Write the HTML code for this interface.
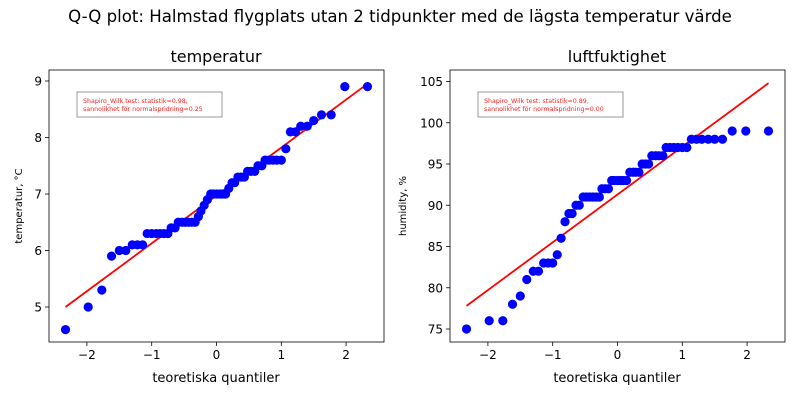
<!DOCTYPE html>
<html><head><meta charset="utf-8"><style>
body{margin:0;background:#fff;font-family:"Liberation Sans","DejaVu Sans",sans-serif}
svg text{font-family:"DejaVu Sans","Liberation Sans",sans-serif}
</style></head><body>
<svg id="s" width="800" height="400" xmlns="http://www.w3.org/2000/svg">
<text x="400" y="22" font-size="16.6" text-anchor="middle">Q-Q plot: Halmstad flygplats utan 2 tidpunkter med de lägsta temperatur värde</text>
</svg>
<script>
const qx=[-2.33,-1.98,-1.77,-1.62,-1.5,-1.4,-1.3,-1.22,-1.14,-1.07,-1.0,-0.93,-0.87,-0.81,-0.75,-0.7,-0.64,-0.59,-0.53,-0.48,-0.43,-0.38,-0.33,-0.28,-0.24,-0.19,-0.14,-0.09,-0.05,0,0.05,0.09,0.14,0.19,0.24,0.28,0.33,0.38,0.43,0.48,0.53,0.59,0.64,0.7,0.75,0.81,0.87,0.93,1.0,1.07,1.14,1.22,1.3,1.4,1.5,1.62,1.77,1.98,2.33];
const tempVals=[4.6,5.0,5.3,5.9,6.0,6.0,6.1,6.1,6.1,6.3,6.3,6.3,6.3,6.3,6.3,6.4,6.4,6.5,6.5,6.5,6.5,6.5,6.5,6.6,6.7,6.8,6.9,7.0,7.0,7.0,7.0,7.0,7.0,7.1,7.2,7.2,7.3,7.3,7.3,7.4,7.4,7.4,7.5,7.5,7.6,7.6,7.6,7.6,7.6,7.8,8.1,8.1,8.2,8.2,8.3,8.4,8.4,8.9,8.9];
const humVals=[75,76,76,78,79,81,82,82,83,83,83,84,86,88,89,89,90,90,91,91,91,91,91,91,92,92,92,93,93,93,93,93,93,94,94,94,94,95,95,95,96,96,96,96,97,97,97,97,97,97,98,98,98,98,98,98,99,99,99];
const tempLine=[[-2.33,5.0],[2.33,8.95]];
const humLine=[[-2.33,77.8],[2.33,104.8]];
const xTicks=[-2,-1,0,1,2];
const tempTicks=[5,6,7,8,9];
const humTicks=[75,80,85,90,95,100,105];
const NS="http://www.w3.org/2000/svg",svg=document.getElementById('s');
function mk(t,a,p){const e=document.createElementNS(NS,t);for(const k in a)e.setAttribute(k,a[k]);(p||svg).appendChild(e);return e;}
function panel(o){
 const g=mk('g',{});
 
 
 const X=v=>o.x0+(v-o.xv0)*o.xs, Y=v=>o.y0-(v-o.yv0)*o.ys;
 const line=mk('line',{x1:X(o.line[0][0]),y1:Y(o.line[0][1]),x2:X(o.line[1][0]),y2:Y(o.line[1][1]),stroke:'#ff0000','stroke-width':1.8},g);
 
 
 o.vals.forEach((v,i)=>{const c=mk('circle',{cx:X(qx[i]),cy:Y(v),r:4.6,fill:'#0000ff'},g);
  
  });
 const fr=mk('rect',{x:o.L,y:70,width:335,height:272,fill:'none',stroke:'#000','stroke-width':0.8},g);
 
 
 xTicks.forEach(t=>{mk('line',{x1:X(t),x2:X(t),y1:342,y2:346,stroke:'#000','stroke-width':0.8},g);
  const tx=mk('text',{x:X(t),y:359,'font-size':12,'text-anchor':'middle'},g);tx.textContent=t<0?'−'+(-t):t;
  
  });
 o.yt.forEach(t=>{mk('line',{x1:o.L-4,x2:o.L,y1:Y(t),y2:Y(t),stroke:'#000','stroke-width':0.8},g);
  const tx=mk('text',{x:o.L-7,y:Y(t)+4.5,'font-size':12,'text-anchor':'end'},g);tx.textContent=t;
  
  });
 const ti=mk('text',{x:o.L+167,y:62,'font-size':16,'text-anchor':'middle'},g);ti.textContent=o.title;
 
 
 const xl=mk('text',{x:o.L+167,y:382,'font-size':13,'text-anchor':'middle'},g);xl.textContent='teoretiska quantiler';
 
 
 const yl=mk('text',{x:0,y:0,'font-size':10,'text-anchor':'middle',transform:`translate(${o.ylx},206) rotate(-90)`},g);yl.textContent=o.ylabel;
 
 
 const bx=mk('rect',{x:o.L+28,y:92,width:145,height:25,fill:'#fff',stroke:'#999','stroke-width':1},g);
 
 
 const t1=mk('text',{x:o.L+34,y:103,'font-size':6.3,fill:'#ff2020'},g);t1.textContent=o.s1;
 
 
 const t2=mk('text',{x:o.L+34,y:111,'font-size':6.3,fill:'#ff2020'},g);t2.textContent=o.s2;
 
 
}
panel({name:'temperatur',L:49,x0:216.5,xv0:0,xs:64.8,y0:307,yv0:5,ys:56.5,vals:tempVals,line:tempLine,yt:tempTicks,title:'temperatur',ylabel:'temperatur, °C',ylx:22,s1:'Shapiro_Wilk test: statistik=0.98,',s2:'sannolikhet för normalspridning=0.25'});
panel({name:'luftfuktighet',L:450,x0:617.5,xv0:0,xs:64.8,y0:329,yv0:75,ys:8.25,vals:humVals,line:humLine,yt:humTicks,title:'luftfuktighet',ylabel:'humidity, %',ylx:406,s1:'Shapiro_Wilk test: statistik=0.89,',s2:'sannolikhet för normalspridning=0.00'});
</script>
</body></html>
